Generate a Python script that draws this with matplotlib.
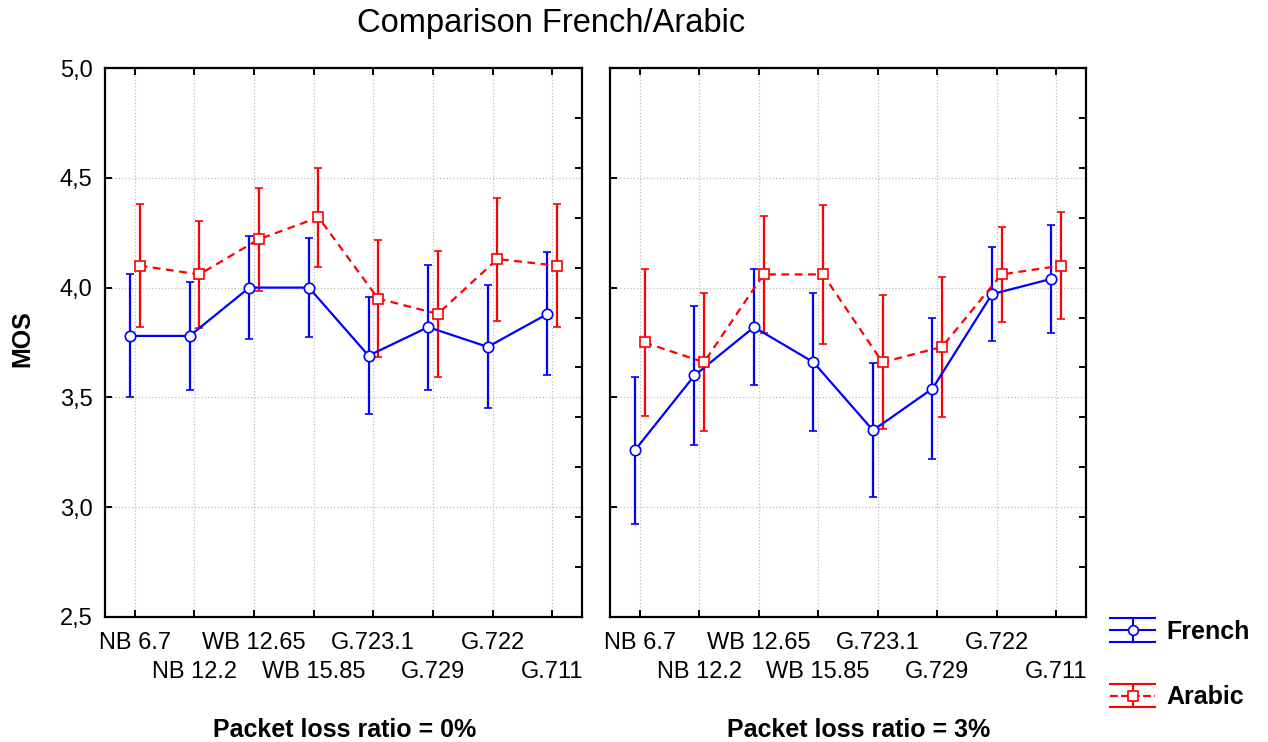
import numpy as np
import matplotlib
matplotlib.use("Agg")
import matplotlib.pyplot as plt
from matplotlib import ticker
from matplotlib.lines import Line2D
from matplotlib.legend_handler import HandlerBase

plt.rcParams["font.family"] = ["Liberation Sans", "DejaVu Sans"]

codecs = ["NB 6.7", "NB 12.2", "WB 12.65", "WB 15.85", "G.723.1", "G.729", "G.722", "G.711"]

# mean opinion scores and 95% confidence half-widths, per packet loss ratio
french_0 = [3.78, 3.78, 4.00, 4.00, 3.69, 3.82, 3.73, 3.88]
arabic_0 = [4.10, 4.06, 4.22, 4.32, 3.95, 3.88, 4.13, 4.10]
ci_0 = [0.28, 0.245, 0.235, 0.225, 0.265, 0.285, 0.28, 0.28]

french_3 = [3.26, 3.60, 3.82, 3.66, 3.35, 3.54, 3.97, 4.04]
arabic_3 = [3.75, 3.66, 4.06, 4.06, 3.66, 3.73, 4.06, 4.10]
ci_3 = [0.335, 0.315, 0.265, 0.315, 0.305, 0.32, 0.215, 0.245]

panels = [("Packet loss ratio = 0%", 0.503, french_0, arabic_0, ci_0),
          ("Packet loss ratio = 3%", 0.522, french_3, arabic_3, ci_3)]

BLUE = "#0000ff"
RED = "#ff0000"
DASH = (0, (3.5, 2.5))


class ErrorbarHandle(HandlerBase):
    """Legend glyph: line with marker, vertical bar and full-width caps."""

    def create_artists(self, legend, orig, xdescent, ydescent, width, height, fontsize, trans):
        c = orig.get_color()
        y0 = height / 2.0 - ydescent
        x0 = -xdescent
        h = 8.5
        arts = [
            Line2D([x0, x0 + width], [y0, y0], color=c, lw=1.5, linestyle=orig.get_linestyle()),
            Line2D([x0, x0 + width], [y0 + h, y0 + h], color=c, lw=1.5),
            Line2D([x0, x0 + width], [y0 - h, y0 - h], color=c, lw=1.5),
            Line2D([x0 + width / 2] * 2, [y0 - h, y0 + h], color=c, lw=1.5),
            Line2D([x0 + width / 2], [y0], color=c, marker=orig.get_marker(),
                   markersize=7, markerfacecolor="white", markeredgecolor=c, mew=1.2),
        ]
        for a in arts:
            a.set_transform(trans)
        return arts


fig = plt.figure(figsize=(12.68, 7.42), dpi=100)
ax_l = fig.add_axes([105 / 1268, 1 - 617 / 742, 477 / 1268, 549 / 742])
ax_r = fig.add_axes([610 / 1268, 1 - 617 / 742, 476 / 1268, 549 / 742], sharey=ax_l)

x = np.arange(len(codecs))

for ax, (xlabel, xl_pos, fr, ar, ci) in zip([ax_l, ax_r], panels):
    ax.errorbar(x - 0.08, fr, yerr=ci, color=BLUE, lw=1.6, elinewidth=1.6,
                capsize=3, capthick=1.6, marker="o", markersize=7.5,
                markerfacecolor="white", markeredgecolor=BLUE, mew=1.2, zorder=3)
    ax.errorbar(x + 0.08, ar, yerr=ci, color=RED, lw=1.6, elinewidth=1.6,
                capsize=3, capthick=1.6, marker="s", markersize=7.5, linestyle=DASH,
                markerfacecolor="white", markeredgecolor=RED, mew=1.2, zorder=3)

    ax.set_xlim(-0.5, len(codecs) - 0.5)
    ax.set_ylim(2.5, 5.0)
    # codec names alternate between two rows: even ones on major ticks, odd ones on minor
    ax.set_xticks(x[::2])
    ax.set_xticklabels(codecs[::2], fontsize=17)
    ax.set_xticks(x[1::2], minor=True)
    ax.set_xticklabels(codecs[1::2], minor=True, fontsize=17)
    ax.set_yticks(np.arange(2.5, 5.01, 0.5))
    ax.yaxis.set_major_formatter(ticker.FuncFormatter(lambda v, p: f"{v:.1f}".replace(".", ",")))
    ax.tick_params(axis="both", which="both", direction="in", length=5, width=1.4,
                   labelsize=17, pad=9)
    ax.tick_params(axis="x", which="both", top=True)
    ax.tick_params(axis="x", which="major", pad=11)
    ax.tick_params(axis="x", which="minor", pad=32)
    ax.tick_params(axis="y", which="minor", left=False, right=False)
    ax.grid(True, which="both", axis="x", linestyle=":", color="#bdbdbd", linewidth=0.9)
    ax.grid(True, which="major", axis="y", linestyle=":", color="#bdbdbd", linewidth=0.9)
    for s in ax.spines.values():
        s.set_linewidth(1.6)

    # secondary scale on the right edge
    tw = ax.twinx()
    tw.set_ylim(2.5, 5.0)
    tw.set_yticks(np.linspace(2.5, 5.0, 12))
    tw.tick_params(axis="y", direction="in", length=5, width=1.4, labelright=False)
    for s in tw.spines.values():
        s.set_visible(False)

    ax.annotate(xlabel, xy=(xl_pos, 0.0165), xycoords=("axes fraction", "figure fraction"),
                ha="center", va="center", fontsize=18, fontweight="bold")

ax_r.tick_params(axis="y", labelleft=False)

fig.text(0.435, 0.968, "Comparison French/Arabic", ha="center", va="center", fontsize=23.5)
fig.text(0.018, 0.543, "MOS", rotation=90, ha="center", va="center",
         fontsize=18, fontweight="bold")

handles = [Line2D([], [], color=BLUE, marker="o", linestyle="-"),
           Line2D([], [], color=RED, marker="s", linestyle=DASH)]
leg = fig.legend(handles, ["French", "Arabic"], loc="upper left",
                 bbox_to_anchor=(1110 / 1268, 1 - 620 / 742), frameon=False,
                 borderpad=0, borderaxespad=0, handlelength=1.8, handletextpad=0.45,
                 labelspacing=1.65, prop={"size": 18, "weight": "bold"},
                 handler_map={Line2D: ErrorbarHandle()})

fig.savefig("out.png", dpi=100)
